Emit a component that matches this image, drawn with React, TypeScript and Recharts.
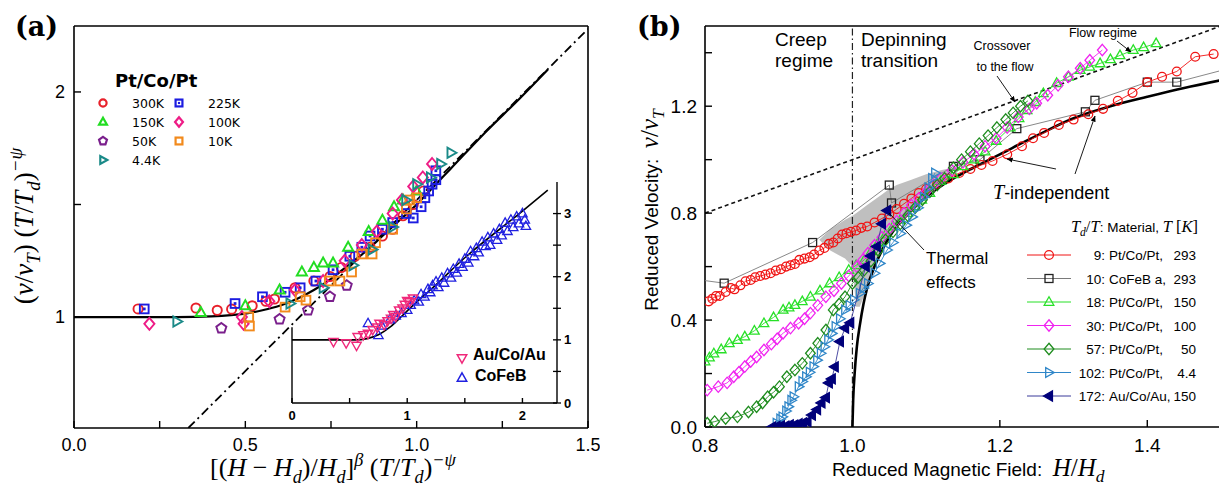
import React from "react";
import { ComposedChart, Scatter, Line, Area, XAxis, YAxis, ReferenceLine, Legend } from "recharts";

const SANS = "'Liberation Sans', Arial, sans-serif";
const SERIF = "'Liberation Serif', 'Times New Roman', serif";
const TAHOMA = "'DejaVu Sans', Verdana, sans-serif";
const BOLDSERIF = "'DejaVu Serif', serif";

// ---------- panel (a): scaling plot ----------
const aXDomain = [0, 1.5];
const aYDomain = [0.507, 2.293];
const aXMajor = [0, 0.5, 1, 1.5];
const aXLabels = ["0.0", "0.5", "1.0", "1.5"];
const aXMinor = [0.25, 0.75, 1.25];
const aYMajor = [1, 2];
const aYLabels = ["1", "2"];
const aYMinor = [1.5];

const a300K = [[0.187, 1.036], [0.356, 1.04], [0.418, 1.03], [0.46, 1.035], [0.52, 1.05], [0.56, 1.07], [0.585, 1.08], [0.645, 1.13], [0.7, 1.16], [0.747, 1.18], [0.78, 1.22], [0.82, 1.27], [0.864, 1.31], [0.9, 1.36], [0.93, 1.39], [0.96, 1.45], [0.99, 1.5], [1.02, 1.56]];
const a225K = [[0.205, 1.036], [0.47, 1.06], [0.55, 1.09], [0.616, 1.11], [0.66, 1.13], [0.706, 1.16], [0.756, 1.21], [0.805, 1.27], [0.84, 1.31], [0.864, 1.36], [0.9, 1.39], [0.93, 1.42], [0.97, 1.46], [0.99, 1.44], [1.013, 1.49], [1.024, 1.53], [1.035, 1.56], [1.045, 1.59], [1.056, 1.61], [1.056, 1.65]];
const a150K = [[0.37, 1.02], [0.5, 1.05], [0.6, 1.12], [0.665, 1.2], [0.7, 1.22], [0.727, 1.24], [0.756, 1.24], [0.8, 1.31], [0.86, 1.38], [0.9, 1.43], [0.934, 1.49], [0.96, 1.52], [1.0, 1.56]];
const a100K = [[0.22, 0.97], [0.49, 1.0], [0.495, 0.97], [0.57, 1.07], [0.645, 1.12], [0.727, 1.16], [0.79, 1.25], [0.84, 1.32], [0.884, 1.38], [0.93, 1.46], [0.957, 1.52], [0.99, 1.58], [1.018, 1.62], [1.045, 1.68]];
const a50K = [[0.43, 0.95], [0.6, 0.99], [0.683, 1.03], [0.747, 1.09], [0.796, 1.14]];
const a10K = [[0.51, 1.0], [0.512, 0.96], [0.616, 1.044], [0.66, 1.09], [0.677, 1.075], [0.745, 1.16], [0.776, 1.16], [0.81, 1.2], [0.84, 1.28], [0.87, 1.28], [0.88, 1.33], [0.93, 1.39], [0.97, 1.48], [0.98, 1.52], [1.0, 1.53]];
const a4K = [[0.3, 0.98], [0.63, 1.06], [0.727, 1.13], [0.814, 1.23], [0.87, 1.3], [0.93, 1.4], [0.968, 1.52], [1.0, 1.59], [1.04, 1.62], [1.07, 1.68], [1.1, 1.73]];
const aFitCurve = [[0, 1], [0.3, 1], [0.4, 1.003], [0.5, 1.015], [0.55, 1.03], [0.6, 1.05], [0.65, 1.08], [0.7, 1.12], [0.75, 1.17], [0.8, 1.23], [0.85, 1.29], [0.9, 1.36], [0.95, 1.43], [1.0, 1.5], [1.05, 1.58], [1.1, 1.66], [1.2, 1.82], [1.3, 1.97], [1.383, 2.1]];
const aAsymptote = [[0.3336, 0.507], [1.5, 2.28]];

const aSeries = [
  { name: "300K", data: a300K, kind: "circle", color: "#e8202a" },
  { name: "225K", data: a225K, kind: "squareDot", color: "#1c1ce0" },
  { name: "150K", data: a150K, kind: "triUp", color: "#22dd22" },
  { name: "100K", data: a100K, kind: "diamond", color: "#ee1c86" },
  { name: "50K", data: a50K, kind: "pentagon", color: "#7a1f8c" },
  { name: "10K", data: a10K, kind: "square", color: "#f28a1c" },
  { name: "4.4K", data: a4K, kind: "triRight", color: "#1a8a88" },
];

// ---------- inset ----------
const insXDomain = [0, 2.3];
const insYDomain = [0, 3.5];
const insXMajor = [0, 1, 2];
const insXLabels = ["0", "1", "2"];
const insXMinor = [0.5, 1.5];
const insYMajor = [0, 1, 2, 3];
const insYLabels = ["0", "1", "2", "3"];
const insYMinor = [0.5, 1.5, 2.5];
const insAuCoAu = [[0.36, 0.97], [0.47, 0.95], [0.56, 0.91], [0.57, 1.05], [0.62, 1.08], [0.66, 1.1], [0.7, 1.16], [0.74, 1.2], [0.76, 1.26], [0.8, 1.24], [0.83, 1.3], [0.86, 1.34], [0.88, 1.4], [0.9, 1.37], [0.93, 1.47], [0.96, 1.5], [0.98, 1.56], [1.0, 1.62], [1.02, 1.6], [1.05, 1.66]];
const insCoFeB = [[0.66, 1.26], [0.75, 1.07], [0.78, 1.22], [0.85, 1.32], [0.9, 1.38], [0.95, 1.42], [1.0, 1.47], [1.03, 1.55], [1.06, 1.62], [1.1, 1.6], [1.12, 1.72], [1.15, 1.68], [1.18, 1.8], [1.2, 1.75], [1.22, 1.86], [1.25, 1.92], [1.27, 1.83], [1.3, 1.98], [1.32, 1.9], [1.35, 2.05], [1.38, 1.98], [1.4, 2.12], [1.43, 2.06], [1.45, 2.2], [1.48, 2.15], [1.5, 2.28], [1.53, 2.22], [1.55, 2.4], [1.58, 2.32], [1.6, 2.45], [1.62, 2.38], [1.65, 2.55], [1.68, 2.48], [1.7, 2.62], [1.72, 2.5], [1.75, 2.68], [1.78, 2.58], [1.8, 2.75], [1.82, 2.65], [1.85, 2.85], [1.87, 2.72], [1.9, 2.9], [1.92, 2.78], [1.95, 2.95], [1.97, 2.84], [2.0, 3.0], [2.02, 2.9], [2.03, 2.8]];
const insFit = [[0, 1], [0.55, 1], [0.65, 1.02], [0.75, 1.08], [0.85, 1.2], [0.95, 1.37], [1.0, 1.46], [1.1, 1.63], [1.2, 1.79], [1.5, 2.3], [2.0, 3.04], [2.22, 3.37]];

// ---------- panel (b): reduced velocity ----------
const bXDomain = [0.8, 1.5];
const bYDomain = [0, 1.5];
const bXMajor = [0.8, 1.0, 1.2, 1.4];
const bXLabels = ["0.8", "1.0", "1.2", "1.4"];
const bYMajor = [0, 0.4, 0.8, 1.2];
const bYLabels = ["0.0", "0.4", "0.8", "1.2"];
const bYMinor = [0.2, 0.6, 1.0, 1.4];

const b9 = [[0.805, 0.47], [0.81, 0.48], [0.815, 0.49], [0.82, 0.49], [0.828, 0.505], [0.835, 0.52], [0.84, 0.515], [0.848, 0.53], [0.855, 0.545], [0.862, 0.55], [0.868, 0.56], [0.875, 0.565], [0.882, 0.57], [0.889, 0.575], [0.896, 0.585], [0.903, 0.59], [0.91, 0.6], [0.916, 0.605], [0.922, 0.61], [0.928, 0.625], [0.935, 0.63], [0.942, 0.635], [0.948, 0.645], [0.955, 0.66], [0.962, 0.67], [0.968, 0.685], [0.974, 0.69], [0.98, 0.705], [0.986, 0.72], [0.992, 0.725], [0.998, 0.73], [1.005, 0.735], [1.012, 0.745], [1.02, 0.75], [1.03, 0.765], [1.04, 0.78], [1.05, 0.795], [1.06, 0.815], [1.07, 0.835], [1.08, 0.855], [1.09, 0.875], [1.1, 0.89], [1.115, 0.91], [1.13, 0.93], [1.145, 0.95], [1.16, 0.965], [1.175, 0.98], [1.19, 0.995], [1.21, 1.02], [1.23, 1.05], [1.245, 1.08], [1.26, 1.1], [1.28, 1.13], [1.3, 1.15], [1.32, 1.17], [1.34, 1.19], [1.36, 1.22], [1.38, 1.25], [1.4, 1.29], [1.42, 1.31], [1.44, 1.33], [1.465, 1.385], [1.49, 1.395]];
const b10 = [[0.78, 0.555], [0.826, 0.538], [0.946, 0.69], [1.05, 0.905], [1.053, 0.838], [1.137, 0.975], [1.173, 1.0], [1.223, 1.116], [1.316, 1.179], [1.329, 1.222], [1.4, 1.29], [1.44, 1.29], [1.53, 1.355]];
const b18 = [[0.8, 0.245], [0.806, 0.26], [0.812, 0.275], [0.822, 0.29], [0.833, 0.313], [0.844, 0.325], [0.854, 0.338], [0.867, 0.36], [0.88, 0.388], [0.893, 0.41], [0.906, 0.438], [0.914, 0.447], [0.922, 0.456], [0.932, 0.47], [0.943, 0.487], [0.956, 0.51], [0.969, 0.537], [0.982, 0.56], [0.995, 0.587], [1.005, 0.605], [1.016, 0.624], [1.026, 0.66], [1.035, 0.69], [1.045, 0.72], [1.055, 0.75], [1.065, 0.775], [1.075, 0.8], [1.085, 0.825], [1.094, 0.85], [1.105, 0.875], [1.12, 0.92], [1.137, 0.945], [1.15, 0.975], [1.165, 1.0], [1.18, 1.03], [1.195, 1.07], [1.214, 1.12], [1.226, 1.155], [1.237, 1.185], [1.248, 1.215], [1.259, 1.248], [1.277, 1.286], [1.293, 1.31], [1.309, 1.335], [1.322, 1.347], [1.336, 1.36], [1.35, 1.375], [1.363, 1.39], [1.381, 1.41], [1.395, 1.42], [1.412, 1.435]];
const b30 = [[0.803, 0.138], [0.818, 0.151], [0.83, 0.165], [0.839, 0.188], [0.846, 0.205], [0.854, 0.226], [0.862, 0.245], [0.87, 0.262], [0.88, 0.288], [0.89, 0.31], [0.898, 0.33], [0.906, 0.351], [0.916, 0.37], [0.927, 0.388], [0.935, 0.405], [0.943, 0.426], [0.953, 0.455], [0.964, 0.487], [0.975, 0.51], [0.985, 0.537], [0.995, 0.565], [1.006, 0.6], [1.014, 0.625], [1.021, 0.65], [1.03, 0.68], [1.04, 0.71], [1.05, 0.74], [1.06, 0.77], [1.07, 0.8], [1.08, 0.83], [1.09, 0.855], [1.1, 0.88], [1.11, 0.905], [1.12, 0.93], [1.135, 0.96], [1.15, 0.99], [1.165, 1.02], [1.18, 1.05], [1.195, 1.08], [1.21, 1.12], [1.225, 1.16], [1.24, 1.19], [1.25, 1.211], [1.265, 1.241], [1.279, 1.278], [1.293, 1.31], [1.309, 1.342], [1.322, 1.372], [1.339, 1.41]];
const b57 = [[0.803, 0.014], [0.813, 0.02], [0.828, 0.032], [0.844, 0.038], [0.859, 0.056], [0.87, 0.076], [0.878, 0.09], [0.885, 0.113], [0.893, 0.13], [0.901, 0.151], [0.911, 0.188], [0.922, 0.213], [0.932, 0.238], [0.943, 0.276], [0.953, 0.313], [0.964, 0.363], [0.974, 0.438], [0.982, 0.46], [0.99, 0.487], [1.0, 0.537], [1.008, 0.56], [1.016, 0.587], [1.025, 0.62], [1.035, 0.66], [1.045, 0.7], [1.055, 0.73], [1.065, 0.76], [1.075, 0.79], [1.085, 0.82], [1.095, 0.85], [1.105, 0.88], [1.115, 0.905], [1.125, 0.93], [1.137, 0.97], [1.148, 1.0], [1.16, 1.03], [1.172, 1.06], [1.184, 1.09], [1.196, 1.12], [1.208, 1.15], [1.218, 1.175], [1.228, 1.2], [1.238, 1.22]];
const b102 = [[0.897, 0.014], [0.902, 0.03], [0.905, 0.038], [0.91, 0.06], [0.913, 0.076], [0.917, 0.1], [0.92, 0.113], [0.927, 0.151], [0.932, 0.17], [0.937, 0.188], [0.942, 0.205], [0.947, 0.226], [0.952, 0.25], [0.957, 0.276], [0.962, 0.3], [0.967, 0.326], [0.972, 0.35], [0.977, 0.376], [0.983, 0.405], [0.99, 0.438], [0.996, 0.455], [1.002, 0.476], [1.01, 0.5], [1.015, 0.52], [1.021, 0.537], [1.03, 0.575], [1.037, 0.612], [1.047, 0.662], [1.055, 0.69], [1.065, 0.724], [1.073, 0.755], [1.081, 0.786], [1.089, 0.82], [1.097, 0.86], [1.103, 0.895], [1.108, 0.93], [1.112, 0.95]];
const b172 = [[0.891, 0.0], [0.897, 0.002], [0.903, 0.004], [0.909, 0.003], [0.915, 0.008], [0.921, 0.007], [0.927, 0.012], [0.933, 0.015], [0.939, 0.02], [0.945, 0.045], [0.952, 0.065], [0.958, 0.09], [0.964, 0.11], [0.968, 0.165], [0.972, 0.18], [0.976, 0.225], [0.983, 0.32], [0.99, 0.37], [0.997, 0.39], [1.018, 0.6], [1.025, 0.64], [1.033, 0.675], [1.04, 0.76], [1.047, 0.81]];
const bTIndependent = [[1.0, 0], [1.001, 0.1], [1.003, 0.2], [1.006, 0.3], [1.01, 0.38], [1.015, 0.46], [1.02, 0.52], [1.03, 0.6], [1.04, 0.66], [1.05, 0.71], [1.06, 0.75], [1.08, 0.81], [1.1, 0.86], [1.125, 0.91], [1.15, 0.95], [1.175, 0.985], [1.2, 1.02], [1.25, 1.09], [1.3, 1.155], [1.35, 1.2], [1.4, 1.235], [1.45, 1.268], [1.5, 1.297]];
const bFlowLine = [[0.8, 0.8], [1.5, 1.5]];
const bThermalBand = [[0.955, 0.7, 0.7], [0.97, 0.66, 0.74], [0.99, 0.63, 0.775], [1.0, 0.6, 0.79], [1.005, 0.45, 0.8], [1.01, 0.45, 0.81], [1.02, 0.52, 0.83], [1.03, 0.6, 0.85], [1.04, 0.66, 0.87], [1.05, 0.71, 0.89], [1.06, 0.75, 0.905], [1.08, 0.81, 0.925], [1.1, 0.86, 0.945], [1.12, 0.9, 0.96], [1.135, 0.93, 0.97]];

const bSeries = [
  { ratio: "10:", material: "CoFeB a,", temp: "293", data: b10, kind: "square", color: "#222222", line: "#7a7a7a", r: 4.2 },
  { ratio: "9:", material: "Pt/Co/Pt,", temp: "293", data: b9, kind: "circle", color: "#f01414", line: "#f01414", r: 4.4 },
  { ratio: "18:", material: "Pt/Co/Pt,", temp: "150", data: b18, kind: "triUp", color: "#27e027", line: "#27e027", r: 4.4 },
  { ratio: "30:", material: "Pt/Co/Pt,", temp: "100", data: b30, kind: "diamond", color: "#f024f0", line: "#f024f0", r: 4.4 },
  { ratio: "57:", material: "Pt/Co/Pt,", temp: "50", data: b57, kind: "diamond", color: "#1e8c1e", line: "#1e8c1e", r: 4.4 },
  { ratio: "102:", material: "Pt/Co/Pt,", temp: "4.4", data: b102, kind: "triRight", color: "#2f86c8", line: "#2f86c8", r: 4.4 },
  { ratio: "172:", material: "Au/Co/Au,", temp: "150", data: b172, kind: "triLeft", color: "#00007a", line: "#3a3a9a", r: 4.6, filled: true },
];
const bLegendOrder = ["9:", "10:", "18:", "30:", "57:", "102:", "172:"];

const toPts = (rows: number[][]) => rows.map(([x, y]) => ({ x, y }));

const poly = (cx: number, cy: number, r: number, pts: number[][]) =>
  pts.map(([dx, dy]) => `${cx + dx * r},${cy + dy * r}`).join(" ");

const pentagon = [0, 1, 2, 3, 4].map((i) => {
  const a = ((-90 + 72 * i) * Math.PI) / 180;
  return [Math.cos(a) * 1.15, Math.sin(a) * 1.15];
});

function Marker({ cx, cy, kind, r, color, filled, sw }: any) {
  if (cx == null || cy == null) return <g />;
  const common = { fill: filled ? color : "none", stroke: color, strokeWidth: sw };
  switch (kind) {
    case "circle":
      return <circle cx={cx} cy={cy} r={r} {...common} />;
    case "square":
      return <rect x={cx - r * 0.95} y={cy - r * 0.95} width={r * 1.9} height={r * 1.9} {...common} />;
    case "squareDot":
      return (
        <g>
          <rect x={cx - r * 0.95} y={cy - r * 0.95} width={r * 1.9} height={r * 1.9} {...common} />
          <rect x={cx - r * 0.3} y={cy - r * 0.3} width={r * 0.6} height={r * 0.6} fill={color} />
        </g>
      );
    case "triUp":
      return <polygon points={poly(cx, cy, r, [[0, -1.2], [1.1, 0.75], [-1.1, 0.75]])} {...common} />;
    case "triDown":
      return <polygon points={poly(cx, cy, r, [[0, 1.2], [1.1, -0.75], [-1.1, -0.75]])} {...common} />;
    case "triRight":
      return <polygon points={poly(cx, cy, r, [[1.2, 0], [-0.75, -1.1], [-0.75, 1.1]])} {...common} />;
    case "triLeft":
      return <polygon points={poly(cx, cy, r, [[-1.2, 0], [0.75, -1.1], [0.75, 1.1]])} {...common} />;
    case "diamond":
      return <polygon points={poly(cx, cy, r, [[0, -1.3], [1.1, 0], [0, 1.3], [-1.1, 0]])} {...common} />;
    case "pentagon":
      return <polygon points={poly(cx, cy, r, pentagon)} {...common} />;
    default:
      return <g />;
  }
}

// inward ticks; only the major values get a label
const makeTick = (side: string, majors: number[], labels: string[], len: number, off: number, font: any) => (p: any) => {
  const v = Number(p.payload && p.payload.value);
  const i = majors.findIndex((m) => Math.abs(m - v) < 1e-6);
  const lab = i >= 0 ? labels[i] : "";
  const { x, y } = p;
  if (side === "bottom") {
    return (
      <g>
        <line x1={x} x2={x} y1={y} y2={y - len} stroke="#000" strokeWidth={1.4} />
        {lab && <text x={x} y={y + off} textAnchor="middle" dominantBaseline="central" fill="#000" style={font}>{lab}</text>}
      </g>
    );
  }
  if (side === "left") {
    return (
      <g>
        <line x1={x} x2={x + len} y1={y} y2={y} stroke="#000" strokeWidth={1.4} />
        {lab && <text x={x - off} y={y} textAnchor="end" dominantBaseline="central" fill="#000" style={font}>{lab}</text>}
      </g>
    );
  }
  return (
    <g>
      <line x1={x - len} x2={x + len} y1={y} y2={y} stroke="#000" strokeWidth={1.3} />
      {lab && <text x={x + off} y={y} textAnchor="start" dominantBaseline="central" fill="#000" style={font}>{lab}</text>}
    </g>
  );
};

type Seg = { t: string; it?: boolean; sub?: boolean; sup?: boolean; sans?: boolean; fs?: number };
function MathText({ x, y, segs, fs, anchor = "start", rotate = false }: any) {
  let shift = 0;
  const spans = segs.map((s: Seg, i: number) => {
    const base = s.fs ?? fs;
    const size = s.sub || s.sup ? base * 0.7 : base;
    const target = s.sub ? base * 0.25 : s.sup ? -base * 0.4 : 0;
    const dy = target - shift;
    shift = target;
    return (
      <tspan key={i} dy={dy} style={{ fontFamily: s.sans ? SANS : SERIF, fontStyle: s.it ? "italic" : "normal", fontSize: size }}>
        {s.t}
      </tspan>
    );
  });
  return (
    <text x={x} y={y} textAnchor={anchor} fill="#000" style={{ whiteSpace: "pre" }} transform={rotate ? `rotate(-90 ${x} ${y})` : undefined}>
      {spans}
    </text>
  );
}

const aXTitle: Seg[] = [
  { t: "[(" }, { t: "H", it: true }, { t: " − " }, { t: "H", it: true }, { t: "d", it: true, sub: true }, { t: ")/" },
  { t: "H", it: true }, { t: "d", it: true, sub: true }, { t: "]" }, { t: "β", it: true, sup: true }, { t: " (" },
  { t: "T", it: true }, { t: "/" }, { t: "T", it: true }, { t: "d", it: true, sub: true }, { t: ")" }, { t: "−ψ", it: true, sup: true },
];
const aYTitle: Seg[] = [
  { t: "(" }, { t: "v", it: true }, { t: "/" }, { t: "v", it: true }, { t: "T", it: true, sub: true }, { t: ") (" },
  { t: "T", it: true }, { t: "/" }, { t: "T", it: true }, { t: "d", it: true, sub: true }, { t: ")" }, { t: "−ψ", it: true, sup: true },
];
const bXTitle: Seg[] = [
  { t: "Reduced Magnetic Field:  ", sans: true, fs: 19 }, { t: "H", it: true }, { t: "/" }, { t: "H", it: true }, { t: "d", it: true, sub: true },
];
const bYTitle: Seg[] = [
  { t: "Reduced Velocity:  ", sans: true, fs: 19 }, { t: "v", it: true }, { t: "/" }, { t: "v", it: true }, { t: "T", it: true, sub: true },
];
const bLegendTitle: Seg[] = [
  { t: "T", it: true }, { t: "d", it: true, sub: true }, { t: "/" }, { t: "T", it: true }, { t: ": Material, ", sans: true, fs: 13.5 },
  { t: "T", it: true }, { t: " [" }, { t: "K", it: true }, { t: "]" },
];
const tIndep: Seg[] = [{ t: "T", it: true, fs: 20 }, { t: "-independent", sans: true, fs: 18 }];

const aTickFont = { fontFamily: SANS, fontSize: 18 };
const insTickFont = { fontFamily: SANS, fontSize: 13, fontWeight: 700 };
const bTickFont = { fontFamily: SANS, fontSize: 19 };

function ALegend() {
  return (
    <svg width={190} height={115}>
      <text x={25} y={26.5} fill="#000" style={{ fontFamily: TAHOMA, fontSize: 18, fontWeight: 700 }}>Pt/Co/Pt</text>
      {aSeries.map((s, i) => {
        const col = i % 2;
        const row = Math.floor(i / 2);
        const mx = col === 0 ? 13 : 89;
        const cy = 43 + row * 19;
        return (
          <g key={s.name}>
            <Marker cx={mx} cy={cy} kind={s.kind} r={3.6} color={s.color} sw={2.2} />
            <text x={mx + 29} y={cy} dominantBaseline="central" fill="#000" style={{ fontFamily: TAHOMA, fontSize: 12.5 }}>{s.name}</text>
          </g>
        );
      })}
    </svg>
  );
}

function InsetLegend() {
  return (
    <svg width={110} height={50}>
      <Marker cx={12} cy={18} kind="triDown" r={4.3} color="#f0287a" sw={1.5} />
      <text x={23} y={19.8} fill="#000" style={{ fontFamily: SANS, fontSize: 16, fontWeight: 700 }}>Au/Co/Au</text>
      <Marker cx={12} cy={38} kind="triUp" r={4.3} color="#2020e0" sw={1.5} />
      <text x={25} y={40.8} fill="#000" style={{ fontFamily: SANS, fontSize: 16, fontWeight: 700 }}>CoFeB</text>
    </svg>
  );
}

function BLegend() {
  const rows = bLegendOrder.map((k) => bSeries.find((s) => s.ratio === k)!);
  const font = { fontFamily: SANS, fontSize: 13.5 };
  return (
    <svg width={200} height={200}>
      <MathText x={183} y={22} segs={bLegendTitle} fs={16.5} anchor="end" />
      {rows.map((s, i) => {
        const cy = 45 + i * 23.5;
        return (
          <g key={s.ratio}>
            <line x1={12} x2={56} y1={cy} y2={cy} stroke={s.line} strokeWidth={1} />
            <Marker cx={34} cy={cy} kind={s.kind} r={s.r} color={s.color} filled={s.filled} sw={1.3} />
            <text x={90} y={cy + 5} textAnchor="end" fill="#000" style={font}>{s.ratio}</text>
            <text x={94} y={cy + 5} fill="#000" style={font}>{s.material}</text>
            <text x={181} y={cy + 5} textAnchor="end" fill="#000" style={font}>{s.temp}</text>
          </g>
        );
      })}
    </svg>
  );
}

const noLegendShift = { layout: "horizontal" as const, verticalAlign: "middle" as const, align: "center" as const };

export default function App() {
  const axisLine = { stroke: "#000", strokeWidth: 1.6 };
  return (
    <div style={{ position: "absolute", left: 0, top: 0, width: 1219, height: 491, overflow: "hidden", background: "#fff" }}>
      {/* panel (a) */}
      <div style={{ position: "absolute", left: 0, top: 0 }}>
        <ComposedChart width={600} height={491} margin={{ top: 26, right: 12, bottom: 23, left: 14 }}>
          <XAxis dataKey="x" type="number" domain={aXDomain} ticks={[...aXMajor, ...aXMinor]} allowDataOverflow interval={0}
            tickLine={false} tickSize={0} tickMargin={0} axisLine={axisLine} height={40}
            tick={makeTick("bottom", aXMajor, aXLabels, 7, 17, aTickFont)} />
          <YAxis dataKey="y" type="number" domain={aYDomain} ticks={[...aYMajor, ...aYMinor]} allowDataOverflow interval={0}
            tickLine={false} tickSize={0} tickMargin={0} axisLine={axisLine} width={60}
            tick={makeTick("left", aYMajor, aYLabels, 7, 9, aTickFont)} />
          <ReferenceLine y={aYDomain[1]} stroke="#000" strokeWidth={1.6} ifOverflow="visible" />
          <ReferenceLine x={aXDomain[1]} stroke="#000" strokeWidth={1.6} ifOverflow="visible" />
          <Line data={toPts(aAsymptote)} dataKey="y" type="linear" stroke="#000" strokeWidth={1.8} strokeDasharray="9 4 2 4" dot={false} isAnimationActive={false} />
          <Line data={toPts(aFitCurve)} dataKey="y" type="monotone" stroke="#000" strokeWidth={2.2} dot={false} isAnimationActive={false} />
          {aSeries.map((s) => (
            <Scatter key={s.name} name={s.name} data={toPts(s.data)} isAnimationActive={false}
              shape={(p: any) => <Marker cx={p.cx} cy={p.cy} kind={s.kind} r={4.6} color={s.color} sw={1.9} />} />
          ))}
          <Legend {...noLegendShift} wrapperStyle={{ left: 90, top: 60, width: 190, height: 115 }} content={() => <ALegend />} />
        </ComposedChart>
      </div>

      {/* inset of panel (a) */}
      <div style={{ position: "absolute", left: 280, top: 170 }}>
        <ComposedChart width={310} height={260} margin={{ top: 12, right: 5, bottom: 5, left: 12 }}>
          <XAxis dataKey="x" type="number" domain={insXDomain} ticks={[...insXMajor, ...insXMinor]} allowDataOverflow interval={0}
            tickLine={false} tickSize={0} tickMargin={0} axisLine={{ stroke: "#000", strokeWidth: 1.4 }} height={22}
            tick={makeTick("bottom", insXMajor, insXLabels, 5, 12, insTickFont)} />
          <YAxis dataKey="y" orientation="right" type="number" domain={insYDomain} ticks={[...insYMajor, ...insYMinor]} allowDataOverflow interval={0}
            tickLine={false} tickSize={0} tickMargin={0} axisLine={{ stroke: "#000", strokeWidth: 1.4 }} width={28}
            tick={makeTick("right", insYMajor, insYLabels, 4, 7, insTickFont)} />
          <ReferenceLine segment={[{ x: 0, y: 0 }, { x: 0, y: 1.2 }]} stroke="#000" strokeWidth={1.4} ifOverflow="visible" />
          <Line data={toPts(insFit)} dataKey="y" type="monotone" stroke="#000" strokeWidth={1.6} dot={false} isAnimationActive={false} />
          <Scatter name="CoFeB" data={toPts(insCoFeB)} isAnimationActive={false}
            shape={(p: any) => <Marker cx={p.cx} cy={p.cy} kind="triUp" r={4.3} color="#2020e0" sw={1.3} />} />
          <Scatter name="Au/Co/Au" data={toPts(insAuCoAu)} isAnimationActive={false}
            shape={(p: any) => <Marker cx={p.cx} cy={p.cy} kind="triDown" r={4.3} color="#f0287a" sw={1.4} />} />
          <Legend {...noLegendShift} wrapperStyle={{ left: 170, top: 170, width: 110, height: 50 }} content={() => <InsetLegend />} />
        </ComposedChart>
      </div>

      {/* panel (b) */}
      <div style={{ position: "absolute", left: 620, top: 0 }}>
        <ComposedChart width={601} height={491} margin={{ top: 26, right: 0, bottom: 24, left: 25 }}>
          <XAxis dataKey="x" type="number" domain={bXDomain} ticks={bXMajor} allowDataOverflow interval={0}
            tickLine={false} tickSize={0} tickMargin={0} axisLine={axisLine} height={40}
            tick={makeTick("bottom", bXMajor, bXLabels, 7, 18, bTickFont)} />
          <YAxis dataKey="y" type="number" domain={bYDomain} ticks={[...bYMajor, ...bYMinor]} allowDataOverflow interval={0}
            tickLine={false} tickSize={0} tickMargin={0} axisLine={axisLine} width={60}
            tick={makeTick("left", bYMajor, bYLabels, 7, 8, bTickFont)} />
          <ReferenceLine y={bYDomain[1]} stroke="#000" strokeWidth={1.6} ifOverflow="visible" />
          <Area data={bThermalBand.map(([x, lo, hi]) => ({ x, band: [lo, hi] }))} dataKey="band" type="linear"
            stroke="none" fill="#b4b4b4" fillOpacity={0.85} isAnimationActive={false} />
          <ReferenceLine x={1} stroke="#222" strokeWidth={1.2} strokeDasharray="7 3 1.5 3" />
          <Line data={toPts(bFlowLine)} dataKey="y" type="linear" stroke="#111" strokeWidth={1.6} strokeDasharray="4 3" dot={false} isAnimationActive={false} />
          {bSeries.map((s) => (
            <Scatter key={s.ratio} name={s.ratio} data={toPts(s.data)} isAnimationActive={false}
              line={{ stroke: s.line, strokeWidth: 0.9 }} lineType="joint"
              shape={(p: any) => <Marker cx={p.cx} cy={p.cy} kind={s.kind} r={s.r} color={s.color} filled={s.filled} sw={1.3} />} />
          ))}
          <Line data={toPts(bTIndependent)} dataKey="y" type="monotone" stroke="#000" strokeWidth={2.6} dot={false} isAnimationActive={false} />
          <Legend {...noLegendShift} wrapperStyle={{ left: 395, top: 210, width: 200, height: 200 }} content={() => <BLegend />} />
        </ComposedChart>
      </div>

      {/* titles and annotations */}
      <svg width={1219} height={491} style={{ position: "absolute", left: 0, top: 0, pointerEvents: "none" }}>
        <defs>
          <marker id="arr" viewBox="0 0 10 10" refX="9" refY="5" markerWidth="7" markerHeight="7" orient="auto-start-reverse">
            <path d="M0,1 L10,5 L0,9 z" fill="#000" />
          </marker>
        </defs>
        <text x={15} y={36} fill="#000" style={{ fontFamily: BOLDSERIF, fontSize: 27, fontWeight: 700 }}>(a)</text>
        <text x={637} y={36} fill="#000" style={{ fontFamily: BOLDSERIF, fontSize: 27, fontWeight: 700 }}>(b)</text>

        <MathText x={333} y={476} segs={aXTitle} fs={26} anchor="middle" />
        <MathText x={33} y={226} segs={aYTitle} fs={27} anchor="middle" rotate />
        <MathText x={832} y={476} segs={bXTitle} fs={25} />
        <MathText x={658} y={210} segs={bYTitle} fs={25} anchor="middle" rotate />

        <g style={{ fontFamily: SANS, fontSize: 19 }} fill="#000">
          <text x={775} y={46}>Creep</text>
          <text x={775} y={67}>regime</text>
          <text x={861} y={46}>Depinning</text>
          <text x={861} y={67}>transition</text>
        </g>
        <g style={{ fontFamily: SANS, fontSize: 12.5 }} fill="#000">
          <text x={1002} y={50} textAnchor="middle">Crossover</text>
          <text x={1005} y={71} textAnchor="middle">to the flow</text>
          <text x={1103} y={37} textAnchor="middle">Flow regime</text>
        </g>
        <line x1={997} y1={76} x2={1015} y2={102} stroke="#000" strokeWidth={0.9} markerEnd="url(#arr)" />
        <line x1={1117} y1={41} x2={1131} y2={52} stroke="#000" strokeWidth={0.9} markerEnd="url(#arr)" />

        <MathText x={993} y={199} segs={tIndep} fs={18} />
        <line x1={1056} y1={169} x2={1007} y2={159} stroke="#000" strokeWidth={0.9} markerEnd="url(#arr)" />
        <line x1={1075} y1={174} x2={1095} y2={116} stroke="#000" strokeWidth={0.9} markerEnd="url(#arr)" />

        <g style={{ fontFamily: SANS, fontSize: 17 }} fill="#000">
          <text x={926} y={264}>Thermal</text>
          <text x={926} y={288}>effects</text>
        </g>
        <line x1={924} y1={250} x2={889} y2={213} stroke="#000" strokeWidth={0.9} />
      </svg>
    </div>
  );
}
